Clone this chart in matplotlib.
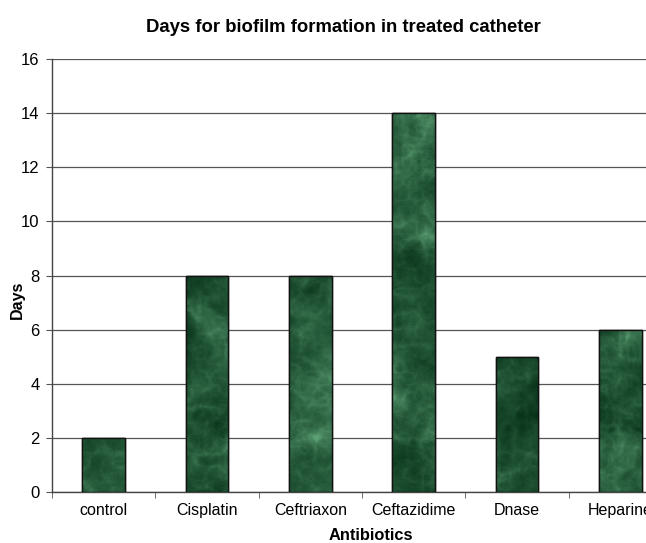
import numpy as np
import matplotlib
matplotlib.use("Agg")
import matplotlib.pyplot as plt

plt.rcParams['font.family'] = ['Liberation Sans', 'DejaVu Sans']

antibiotics = ["control", "Cisplatin", "Ceftriaxon", "Ceftazidime", "Dnase", "Heparine"]
days = [2, 8, 8, 14, 5, 6]
y_ticks = [0, 2, 4, 6, 8, 10, 12, 14, 16]


def resize(a, h, w):
    # plain bilinear upsampling with numpy only
    ys = np.linspace(0, a.shape[0] - 1, h)
    xs = np.linspace(0, a.shape[1] - 1, w)
    rows = np.array([np.interp(xs, np.arange(a.shape[1]), r) for r in a])
    out = np.array([np.interp(ys, np.arange(a.shape[0]), c) for c in rows.T]).T
    return out


def marble_texture(h, w, seed=11):
    # ridged multi-octave noise -> cloudy light streaks on dark green
    rng = np.random.default_rng(seed)
    cloud = np.zeros((h, w))
    ridge = np.zeros((h, w))
    for cells, amp in [(8, 1.0), (18, 0.7), (40, 0.5), (90, 0.35), (200, 0.25)]:
        g1 = resize(rng.random((cells * h // w + 2, cells + 2)), h, w)
        g2 = resize(rng.random((cells * h // w + 2, cells + 2)), h, w)
        cloud += amp * g1
        ridge += amp * (1 - np.abs(2 * g2 - 1)) ** 3
    cloud = (cloud - cloud.min()) / (cloud.max() - cloud.min())
    ridge = (ridge - ridge.min()) / (ridge.max() - ridge.min())
    t = np.clip(0.5 * cloud + 0.7 * ridge ** 1.6 - 0.1, 0, 1)
    dark = np.array([0.03, 0.20, 0.10])
    light = np.array([0.42, 0.70, 0.52])
    return dark + (light - dark) * (t[..., None] ** 1.1)


fig = plt.figure(figsize=(6.46, 5.43), dpi=100)
ax = fig.add_axes([52 / 646, 51 / 543, 620 / 646, 433 / 543])

x = np.arange(len(antibiotics))
bars = ax.bar(x, days, width=0.41, color="#1d5532", edgecolor="#111111",
              linewidth=1.0, zorder=3)

tex = marble_texture(433, 620)
for b in bars:
    im = ax.imshow(tex, extent=[-0.5, 5.5, 0, 16], aspect="auto",
                   interpolation="bilinear", zorder=3.5)
    im.set_clip_path(b)
    # outline on top of the texture
    ax.bar(b.get_x() + b.get_width() / 2, b.get_height(), width=b.get_width(),
           fill=False, edgecolor="#111111", linewidth=1.0, zorder=4)

ax.set_xlim(-0.5, len(antibiotics) - 0.5)
ax.set_ylim(0, 16)
ax.set_yticks(y_ticks)
ax.yaxis.grid(True, color="#555555", linewidth=0.9, zorder=0)
ax.set_axisbelow(True)

ax.set_xticks(x)
ax.set_xticklabels(antibiotics, fontsize=11.5)
ax.set_xticks(np.arange(len(antibiotics) + 1) - 0.5, minor=True)
ax.tick_params(axis="x", which="major", length=0, pad=8)
ax.tick_params(axis="x", which="minor", length=4, color="#555555")
ax.tick_params(axis="y", length=4, color="#555555", labelsize=12, pad=5)

for side in ["top", "right"]:
    ax.spines[side].set_visible(False)
for side in ["left", "bottom"]:
    ax.spines[side].set_color("#444444")
    ax.spines[side].set_linewidth(1.0)

fig.text(17 / 646, 1 - 300 / 543, "Days", rotation=90, ha="center", va="center",
         fontsize=11.5, fontweight="bold")
fig.text(371 / 646, 1 - 535 / 543, "Antibiotics", ha="center", va="center",
         fontsize=11.8, fontweight="bold")
fig.text(343 / 646, 1 - 27 / 543, "Days for biofilm formation in treated catheter",
         ha="center", va="center", fontsize=13.3, fontweight="bold")

fig.savefig("out.png", dpi=100)
